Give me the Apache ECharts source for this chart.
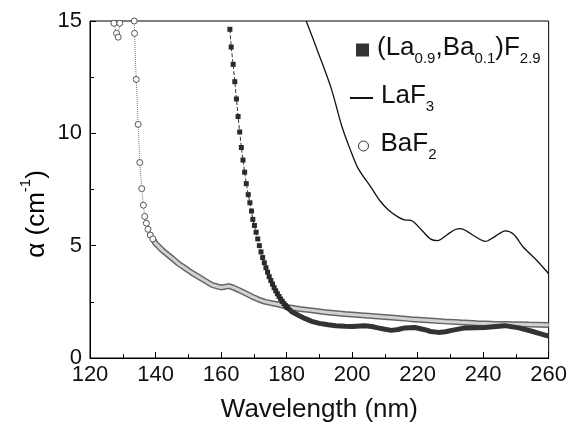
<!DOCTYPE html>
<html>
<head>
<meta charset="utf-8">
<script src="https://cdn.jsdelivr.net/npm/echarts@6/dist/echarts.min.js"></script>
<style>html,body{margin:0;padding:0;background:#fff}#c{width:570px;height:428px}</style>
</head>
<body>
<div id="c"></div>
<script>
// ---- data ----
const xTicks = [120, 140, 160, 180, 200, 220, 240, 260];
const yTicks = [0, 5, 10, 15];

// (La0.9,Ba0.1)F2.9 : resolved squares on the steep edge
const laSteep = [[162.7,14.63],[163.1,13.84],[163.7,13.07],[164.2,12.3],[164.7,11.53],[165.2,10.75],[165.7,10.06],[166.2,9.37],[166.7,8.81],[167.2,8.27],[167.7,7.76],[168.3,7.27],[168.8,6.91],[169.3,6.54],[169.7,6.17],[170.2,5.9],[170.7,5.6],[171.2,5.3],[171.7,5.0],[172.2,4.72],[172.7,4.47],[173.2,4.24],[173.7,4.02],[174.2,3.82],[174.7,3.62],[175.2,3.45],[175.7,3.29],[176.2,3.13],[176.7,2.99],[177.2,2.86],[177.7,2.74],[178.2,2.62],[178.7,2.52],[179.2,2.42],[179.7,2.33],[180.2,2.24]];
// (La0.9,Ba0.1)F2.9 : dense squares forming a dark band
const laBand = [[179.7,2.33],[180.6,2.2],[181.6,2.06],[183.6,1.9],[185.7,1.75],[187.7,1.63],[190,1.54],[192.7,1.48],[195,1.44],[197.8,1.41],[200,1.4],[203.9,1.44],[206,1.4],[207.9,1.34],[210,1.28],[212,1.23],[214,1.27],[216.1,1.34],[219.2,1.36],[222.2,1.26],[224,1.18],[226.4,1.14],[228.5,1.17],[230.4,1.23],[234.5,1.34],[240.5,1.36],[246.6,1.44],[250.9,1.34],[254.9,1.19],[259.4,1.0],[260,0.98]];

// LaF3
const laf3 = [[186.0,15.0],[189.7,13.58],[193.7,11.97],[196.8,10.35],[199.3,9.33],[201.8,8.45],[205.9,7.57],[208.5,7.0],[211,6.6],[214,6.28],[216,6.15],[218,6.13],[221,5.73],[224,5.29],[226.1,5.22],[229.1,5.5],[231.5,5.72],[233.1,5.76],[235,5.65],[237.2,5.44],[240.7,5.19],[243.2,5.37],[246.8,5.66],[249.3,5.51],[252.3,4.93],[256.4,4.34],[260,3.75]];

// BaF2 : resolved circles (scattered top points, then the steep edge)
const baSteep = [[127.3,14.9],[128.1,14.45],[128.6,14.28],[129.1,14.9],null,[133.5,15.0],[133.6,14.45],[134.1,12.4],[134.7,10.4],[135.2,8.7],[135.8,7.54],[136.3,6.8],[136.7,6.3],[137.2,6.0],[137.7,5.73],[138.4,5.47],[139.2,5.3]];
// BaF2 : dense circles forming a grey band
const baBand = [[139.2,5.3],[140,5.1],[142.2,4.78],[145.3,4.41],[147,4.2],[149.3,3.97],[151,3.8],[153.3,3.6],[155,3.45],[157.4,3.24],[160,3.14],[162.4,3.2],[164,3.12],[165.5,3.02],[167.5,2.88],[169.5,2.73],[171.5,2.6],[173.5,2.5],[175.5,2.44],[177.6,2.38],[180.6,2.26],[184,2.18],[187.7,2.12],[192,2.04],[197.8,1.96],[203,1.9],[207.9,1.85],[213,1.79],[218,1.73],[223,1.68],[228.1,1.63],[233,1.59],[238.2,1.55],[243,1.53],[248.3,1.51],[254,1.49],[260,1.47]];

const FONT = '"Liberation Sans", Arial, sans-serif';
const sub = {fontFamily: FONT, fontSize: 15, color: '#111', lineHeight: 18, padding: [16, 0, 0, 0], verticalAlign: 'top'};
const main = {fontFamily: FONT, fontSize: 26, color: '#111', lineHeight: 30, verticalAlign: 'top'};
const richSet = {m: main, s: sub, g: Object.assign({}, main, {padding: [0, 0, 0, 3]}), h: Object.assign({}, main, {padding: [0, 0, 0, 7]})};

const chart = echarts.init(document.getElementById('c'), null, {renderer: 'canvas'});
const option = {
  animation: false,
  backgroundColor: '#fff',
  grid: {left: 90, right: 20, top: 21, bottom: 66, show: true, borderColor: '#000', borderWidth: 1, backgroundColor: 'transparent'},
  xAxis: {
    type: 'value', min: 120, max: 260, interval: 20,
    name: 'Wavelength (nm)', nameLocation: 'middle', nameGap: 39,
    nameTextStyle: {fontFamily: FONT, fontSize: 26, color: '#111'},
    axisLine: {lineStyle: {color: '#000', width: 1}},
    axisTick: {inside: true, length: 6, lineStyle: {color: '#000'}},
    minorTick: {show: true, splitNumber: 2, length: 4, lineStyle: {color: '#000'}},
    splitLine: {show: false},
    axisLabel: {fontFamily: FONT, fontSize: 22, color: '#111', margin: 6,
      formatter: v => xTicks.indexOf(v) >= 0 ? String(v) : ''}
  },
  yAxis: {
    type: 'value', min: 0, max: 15, interval: 5,
    axisLine: {show: true, lineStyle: {color: '#000', width: 1}},
    axisTick: {show: true, inside: true, length: 6, lineStyle: {color: '#000'}},
    minorTick: {show: true, splitNumber: 2, length: 4, lineStyle: {color: '#000'}},
    splitLine: {show: false},
    axisLabel: {fontFamily: FONT, fontSize: 22, color: '#111', margin: 8,
      formatter: v => yTicks.indexOf(v) >= 0 ? String(v) : ''}
  },
  legend: [
    {left: 356, top: 35, padding: 0, orient: 'vertical', selectedMode: false,
     itemWidth: 13, itemHeight: 13,
     data: [{name: 'La', icon: 'rect', itemStyle: {color: '#333', borderWidth: 0}}],
     textStyle: {rich: richSet},
     formatter: () => '{g|(La}{s|0.9}{m|,Ba}{s|0.1}{m|)F}{s|2.9}'},
    {left: 350, top: 83, padding: 0, orient: 'vertical', selectedMode: false,
     itemWidth: 23, itemHeight: 2,
     data: [{name: 'LaF3', icon: 'rect', itemStyle: {color: '#111', borderWidth: 0}}],
     textStyle: {rich: richSet},
     formatter: () => '{g|LaF}{s|3}'},
    {left: 358, top: 131, padding: 0, orient: 'vertical', selectedMode: false,
     itemWidth: 10, itemHeight: 10,
     data: [{name: 'BaF2', icon: 'circle', itemStyle: {color: '#fff', borderColor: '#333', borderWidth: 1}}],
     textStyle: {rich: richSet},
     formatter: () => '{h|BaF}{s|2}'}
  ],
  graphic: [{
    type: 'text', x: 33, y: 214, rotation: Math.PI / 2,
    style: {
      text: '{a|α (cm}{b|-1}{a|)}',
      align: 'center', verticalAlign: 'middle',
      rich: {
        a: {fontFamily: FONT, fontSize: 26, color: '#111', lineHeight: 30, padding: [6, 0, 0, 0], verticalAlign: 'top'},
        b: {fontFamily: FONT, fontSize: 15, color: '#111', lineHeight: 18, verticalAlign: 'top'}
      }
    }
  }],
  series: [
    {name: 'BaF2_outer', type: 'line', data: baBand, showSymbol: false, z: 2,
     lineStyle: {color: '#666', width: 6}, itemStyle: {color: '#666'}},
    {name: 'BaF2_inner', type: 'line', data: baBand, showSymbol: false, z: 3,
     lineStyle: {color: '#d2d2d2', width: 3}, itemStyle: {color: '#d2d2d2'}},
    {name: 'BaF2', type: 'line', data: baSteep, connectNulls: false, z: 3,
     symbol: 'circle', symbolSize: 6,
     itemStyle: {color: '#fff', borderColor: '#555', borderWidth: 1},
     lineStyle: {color: '#777', width: 1, type: 'dotted'}},
    {name: 'La_band', type: 'line', data: laBand, showSymbol: false, z: 4,
     lineStyle: {color: '#333', width: 5}, itemStyle: {color: '#333'}},
    {name: 'La', type: 'line', data: laSteep, z: 4,
     symbol: 'rect', symbolSize: 5,
     itemStyle: {color: '#2a2a2a'},
     lineStyle: {color: '#333', width: 1, type: 'dashed'}},
    {name: 'LaF3', type: 'line', data: laf3, showSymbol: false, smooth: 0.3, z: 5,
     lineStyle: {color: '#111', width: 1.3}, itemStyle: {color: '#111'}}
  ]
};
chart.setOption(option);
</script>
</body>
</html>
